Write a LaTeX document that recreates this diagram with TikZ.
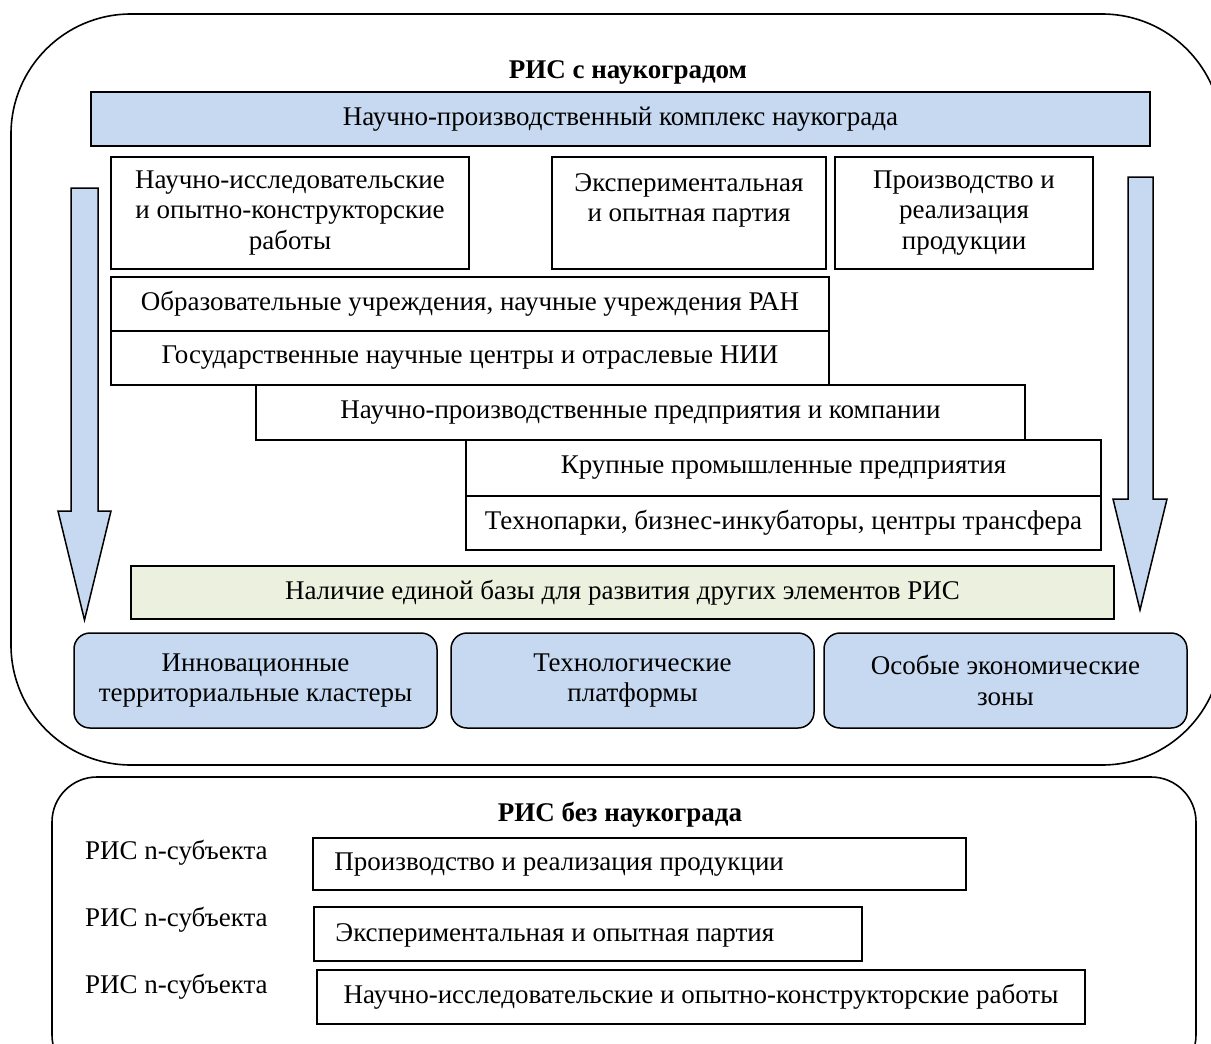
\documentclass[tikz,border=0pt]{standalone}
\usepackage{fontspec}
\setmainfont{Liberation Serif}
\definecolor{lblue}{RGB}{198,217,240}
\definecolor{lgreen}{RGB}{235,241,222}
\begin{document}
\begin{tikzpicture}[x=1pt,y=-1pt,
  font=\fontsize{27}{30.5}\selectfont,
  box/.style={draw=black, line width=1.5pt, inner sep=0pt, align=center, fill=white},
  bluebox/.style={box, fill=lblue},
  greenbox/.style={box, fill=lgreen},
  roundbox/.style={box, fill=lblue, rounded corners=16pt},
  bigarrow/.style={draw=black, line width=1.5pt, fill=lblue, line join=miter},
  frame/.style={draw=black, line width=1.6pt},
  ttl/.style={font=\fontsize{27}{30.5}\selectfont\bfseries},
  plain/.style={inner sep=0pt}]
\useasboundingbox (0,0) rectangle (1211,1044);
\clip (0,0) rectangle (1211,1044);

% outer frames
\draw[frame, rounded corners=120pt] (11,14) rectangle (1222,765);
\draw[frame, rounded corners=45pt] (52,777) rectangle (1196,1080);

% big arrows
\draw[bigarrow] (71,188) -- (98,188) -- (98,511) -- (111,511) -- (84.5,620) -- (58,511) -- (71,511) -- cycle;
\draw[bigarrow] (1128,177) -- (1153,177) -- (1153,499) -- (1167,499) -- (1140,610) -- (1113,499) -- (1128,499) -- cycle;

% top part
\node[ttl] (t1) at (628,72) {РИС с наукоградом};
\node[bluebox, minimum width=1059pt, minimum height=54pt] (npk) at (620.5,119) {Научно-производственный комплекс наукограда};

\node[box, minimum width=358pt, minimum height=112pt] (nir) at (290,213) {Научно-исследовательские\\и опытно-конструкторские\\работы};
\node[box, minimum width=274pt, minimum height=112pt] (exp) at (689,213) {Экспериментальная\\и опытная партия\\\mbox{}};
\node[box, minimum width=258pt, minimum height=112pt] (prod) at (964,213) {Производство и\\реализация\\продукции};

\node[box, minimum width=718pt, minimum height=54pt] (obr) at (470,304) {Образовательные учреждения, научные учреждения РАН};
\node[box, minimum width=718pt, minimum height=54pt] (gos) at (470,358) {Государственные научные центры и отраслевые НИИ};
\node[box, minimum width=769pt, minimum height=55pt] (npp) at (640.5,412.5) {Научно-производственные предприятия и компании};
\node[box, minimum width=635pt, minimum height=56pt] (krup) at (783.5,468) {Крупные промышленные предприятия};
\node[box, minimum width=635pt, minimum height=54pt] (tech) at (783.5,523) {Технопарки, бизнес-инкубаторы, центры трансфера};

\node[greenbox, minimum width=983pt, minimum height=53pt] (base) at (622.5,592.5) {Наличие единой базы для развития других элементов РИС};

\node[roundbox, minimum width=363pt, minimum height=95pt] (clus) at (255.5,680.5) {Инновационные\\территориальные кластеры};
\node[roundbox, minimum width=363pt, minimum height=95pt] (plat) at (632.5,680.5) {Технологические\\платформы};
\node[roundbox, minimum width=363pt, minimum height=95pt] (oez) at (1005.5,680.5) {Особые экономические\\зоны};

% bottom part
\node[ttl] (t2) at (620,815) {РИС без наукограда};

\node[plain, anchor=west] (l1) at (85,853) {РИС n-субъекта};
\node[plain, anchor=west] (l2) at (85,920) {РИС n-субъекта};
\node[plain, anchor=west] (l3) at (85,987) {РИС n-субъекта};

\node[box, minimum width=653pt, minimum height=52pt] (p1) at (639.5,864) {};
\node[plain, anchor=west] (p1t) at ([xshift=22pt,yshift=-1pt]p1.west) {Производство и реализация продукции};
\node[box, minimum width=548pt, minimum height=54pt] (p2) at (588,934) {};
\node[plain, anchor=west] (p2t) at ([xshift=22pt,yshift=-1pt]p2.west) {Экспериментальная и опытная партия};
\node[box, minimum width=768pt, minimum height=54pt] (p3) at (701,997) {Научно-исследовательские и опытно-конструкторские работы};
\end{tikzpicture}
\end{document}
